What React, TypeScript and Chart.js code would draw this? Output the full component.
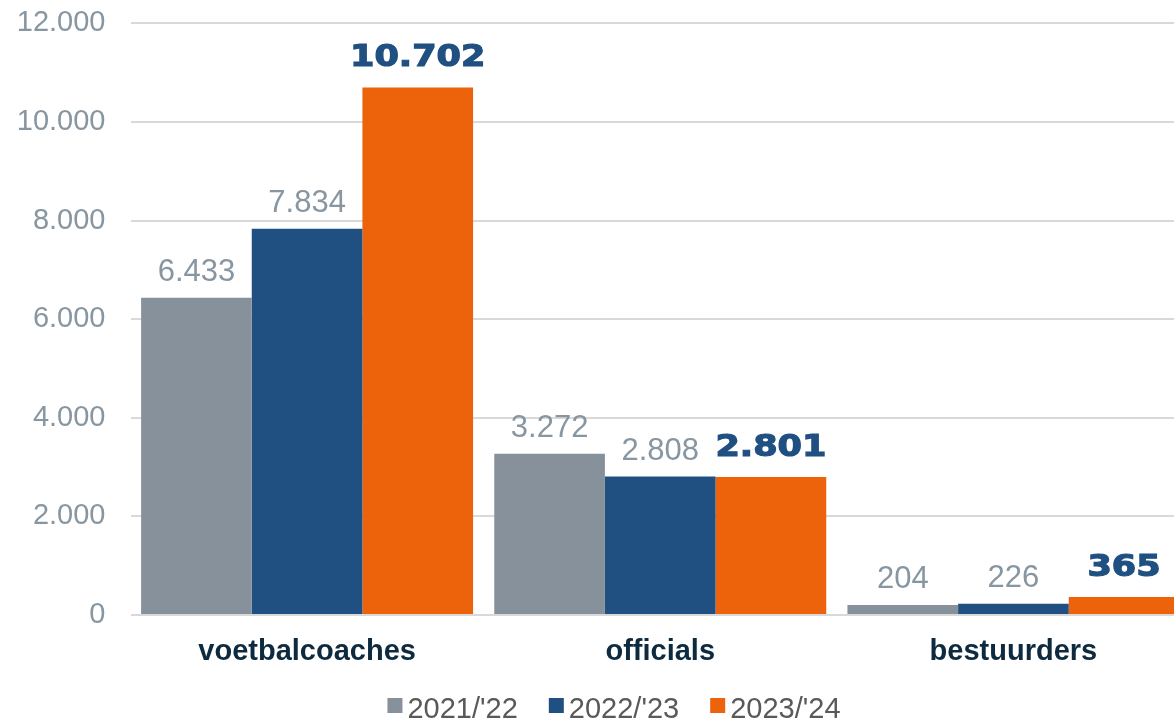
import React, { useEffect, useRef } from "react";
import { Chart, registerables } from "chart.js";

Chart.register(...registerables);

const categories = ["voetbalcoaches", "officials", "bestuurders"];
const seriesNames = ["2021/'22", "2022/'23", "2023/'24"];
const values2122 = [6433, 3272, 204];
const values2223 = [7834, 2808, 226];
const values2324 = [10702, 2801, 365];
const yMin = 0;
const yMax = 12000;
const yStep = 2000;

const barColors = ["#86919B", "#205082", "#EC630C"];
const FONT = "'Liberation Sans', Arial, sans-serif";
const TOP_SHIFT = 19;

function fmt(n: number): string {
  return String(n).replace(/\B(?=(\d{3})+(?!\d))/g, ".");
}

const labelPlugin = {
  id: "valueLabels",
  afterDatasetsDraw(chart: any) {
    const ctx = chart.ctx;
    chart.data.datasets.forEach((ds: any, i: number) => {
      const meta = chart.getDatasetMeta(i);
      meta.data.forEach((bar: any, j: number) => {
        const text = fmt(ds.data[j]);
        ctx.save();
        ctx.textAlign = "center";
        ctx.textBaseline = "alphabetic";
        if (i === 2) {
          ctx.font = "bold 30px 'DejaVu Sans'";
          ctx.fillStyle = "#205082";
          ctx.strokeStyle = "#205082";
          ctx.lineWidth = 1.2;
          ctx.translate(bar.x, bar.y - 21);
          ctx.scale(1.17, 1);
          ctx.fillText(text, 0, 0);
          ctx.strokeText(text, 0, 0);
        } else {
          ctx.font = `31px ${FONT}`;
          ctx.fillStyle = "#8796A1";
          ctx.fillText(text, bar.x, bar.y - 17);
        }
        ctx.restore();
      });
    });
  },
};

const legendPlugin = {
  id: "customLegend",
  afterDraw(chart: any) {
    const ctx = chart.ctx;
    const center = 614;
    const box = 15;
    const gap = 5;
    const spacing = 31;
    const baseline = chart.height;
    ctx.save();
    ctx.font = `29px ${FONT}`;
    const widths = seriesNames.map((t) => box + gap + ctx.measureText(t).width);
    const total = widths.reduce((a, b) => a + b, 0) + spacing * (seriesNames.length - 1);
    let x = center - total / 2;
    ctx.textBaseline = "alphabetic";
    ctx.textAlign = "left";
    seriesNames.forEach((t, i) => {
      ctx.fillStyle = barColors[i];
      ctx.fillRect(x, baseline - 20, box, box);
      ctx.fillStyle = "#595959";
      ctx.fillText(t, x + box + gap, baseline);
      x += widths[i] + spacing;
    });
    ctx.restore();
  },
};

export default function App() {
  const ref = useRef<HTMLCanvasElement | null>(null);

  useEffect(() => {
    if (!ref.current) return;
    const chart = new Chart(ref.current, {
      type: "bar",
      data: {
        labels: categories,
        datasets: [values2122, values2223, values2324].map((d, i) => ({
          label: seriesNames[i],
          data: d,
          backgroundColor: barColors[i],
          borderWidth: 0,
          categoryPercentage: 0.94,
          barPercentage: 1.0,
        })),
      },
      options: {
        responsive: false,
        animation: false,
        devicePixelRatio: 1,
        layout: { padding: { left: 0, right: 0, top: 4, bottom: 0 } },
        plugins: {
          tooltip: { enabled: false },
          legend: { display: false },
        },
        scales: {
          x: {
            grid: { display: false, drawTicks: false },
            border: { display: false },
            ticks: {
              color: "#0E2A3F",
              padding: 20,
              font: { family: FONT, size: 29, weight: "bold" },
            },
            afterFit(scale: any) {
              scale.height = 103;
            },
          },
          y: {
            min: yMin,
            max: yMax,
            grid: { color: "#D9D9D9", lineWidth: 2, drawTicks: false },
            border: { display: false },
            ticks: {
              stepSize: yStep,
              padding: 25,
              color: "#8796A1",
              font: { family: FONT, size: 29 },
              callback: (v: any) => fmt(Number(v)),
            },
            afterFit(scale: any) {
              scale.width = 130.5;
            },
          },
        },
      },
      plugins: [labelPlugin, legendPlugin],
    });
    return () => chart.destroy();
  }, []);

  return (
    <div
      style={{
        position: "fixed",
        left: 0,
        top: 0,
        width: 1174,
        height: 718,
        overflow: "hidden",
        background: "#fff",
      }}
    >
      <canvas
        ref={ref}
        width={1190}
        height={718 + TOP_SHIFT}
        style={{ display: "block", marginTop: -TOP_SHIFT }}
      />
    </div>
  );
}
